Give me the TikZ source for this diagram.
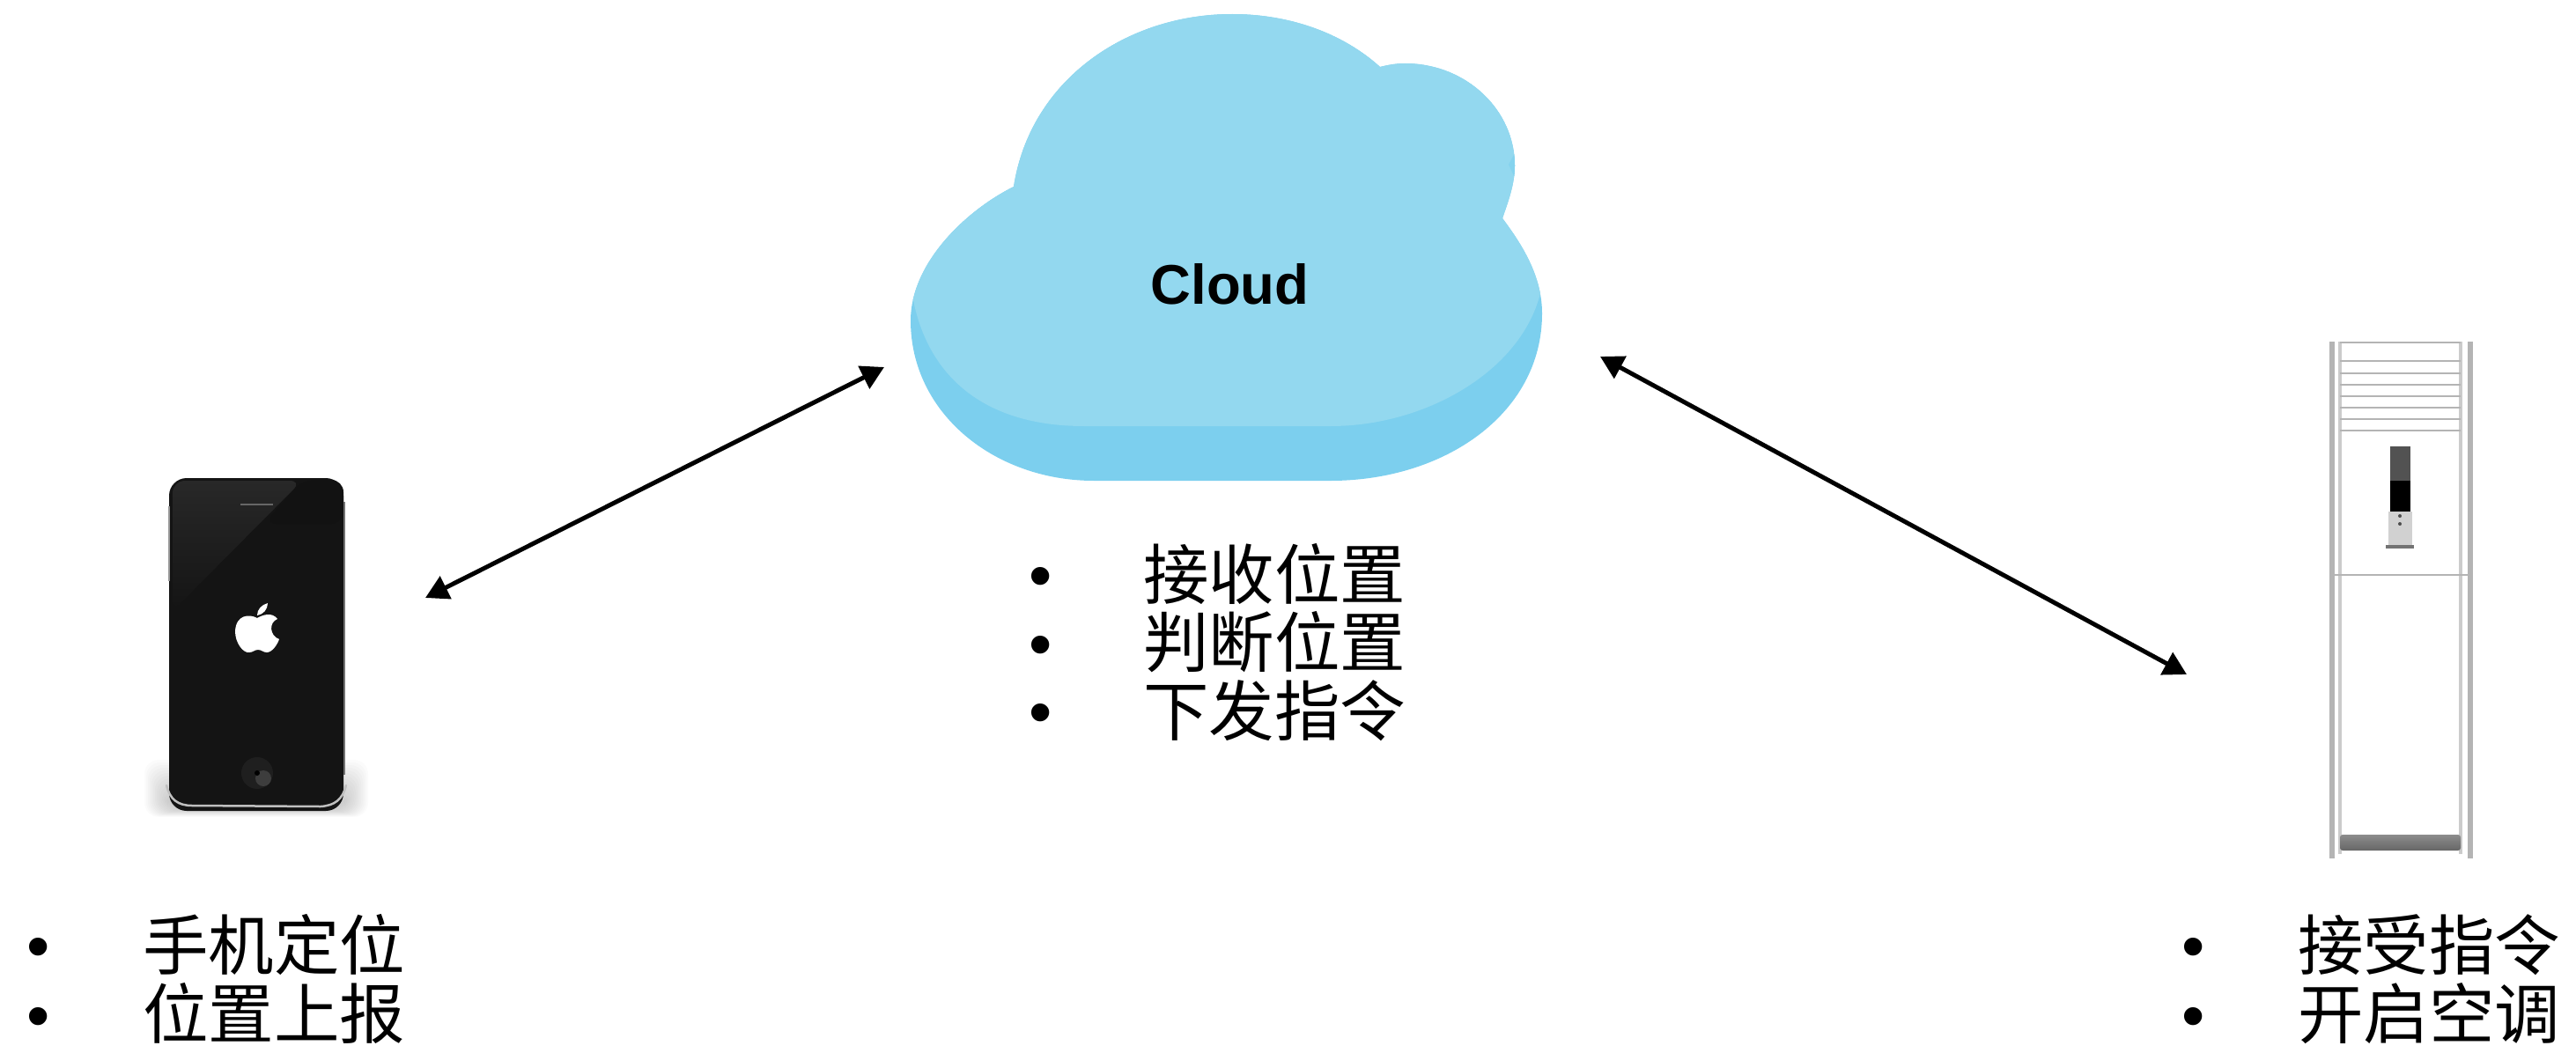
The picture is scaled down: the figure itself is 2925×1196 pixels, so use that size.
\documentclass[tikz,border=0pt]{standalone}
\usepackage{fontspec}
\setmainfont{Liberation Sans}
\newfontfamily\cjkfont{Noto Sans CJK SC}
\usetikzlibrary{arrows.meta}
\definecolor{cloudlight}{HTML}{93D8EF}
\definecolor{clouddark}{HTML}{7CCFEE}
\definecolor{phoneblack}{HTML}{141414}
\definecolor{phonegloss}{HTML}{282828}
\definecolor{acgrey}{HTML}{B4B4B4}
\def\cloudoutline{(1151,212) .. controls (1095,240) and (1034,300) .. (1034,364)
 .. controls (1034,470) and (1130,546) .. (1242,546) -- (1511,546)
 .. controls (1640,546) and (1751,470) .. (1751,356)
 .. controls (1751,315) and (1730,280) .. (1706,248)
 .. controls (1712,230) and (1720,210) .. (1720,188)
 .. controls (1720,125) and (1665,72) .. (1595,72)
 .. controls (1585,72) and (1575,74) .. (1567,76)
 .. controls (1525,38) and (1465,16) .. (1399,16)
 .. controls (1280,16) and (1170,90) .. (1151,212) -- cycle}
\tikzset{
  link/.style={line width=5pt,draw=black,{Triangle[length=26pt,width=28pt]}-{Triangle[length=26pt,width=28pt]}},
  item/.style={anchor=base west,inner sep=0pt,outer sep=0pt,font=\cjkfont\fontsize{74.5}{75}\selectfont},
  dot/.style={anchor=base,inner sep=0pt,outer sep=0pt,font=\fontsize{75}{75}\selectfont},
  cloudlabel/.style={inner sep=0pt,font=\bfseries\fontsize{63.5}{64}\selectfont},
  louver/.style={draw=acgrey,line width=2pt},
  acbar/.style={draw=acgrey,line width=6pt},
  acedge/.style={draw=acgrey!70,line width=4pt},
}
\begin{document}
\begin{tikzpicture}[x=1pt,y=-1pt]
\useasboundingbox (0,0) rectangle (2925,1196);
% cloud
\fill[clouddark] \cloudoutline;
\begin{scope}
  \clip \cloudoutline;
  \fill[cloudlight] (1000,0) -- (1000,341) -- (1037,341) .. controls (1055,430) and (1120,484) .. (1231,484) -- (1511,484)
    .. controls (1620,484) and (1730,420) .. (1750,329) -- (1790,329) -- (1790,0) -- cycle;
  \fill[clouddark!60!cloudlight] (1721,172) -- (1713,187) -- (1721,204) -- cycle;
\end{scope}
\node[cloudlabel] (cloud) at (1396.5,323) {Cloud};
% phone
\foreach \s in {1,...,14} {
  \fill[black,opacity=.014,rounded corners=16pt] ({192-2*\s},{905-3*\s}) rectangle ({390+2*\s},{918+.7*\s});
}
\fill[phoneblack,rounded corners=20pt] (192,543) rectangle (390,921);
\shade[top color=phonegloss,bottom color=phoneblack,rounded corners=14pt] (196,546) -- (343,546) -- (212,678) -- (196,695) -- cycle;
\fill[black!93,rounded corners=14pt] (343,545) -- (390,545) -- (390,595) -- (300,595) -- cycle;
\draw[black!40,line width=1.5pt] (192,575) -- (192,660);
\draw[black!60,line width=1.5pt] (273,573) -- (310,573);
\draw[black!25,line width=2.5pt,line cap=round] (189,892) .. controls (193,908) and (202,915) .. (218,915) -- (364,916) .. controls (380,915) and (389,908) .. (393,892);
\draw[black!55,line width=1.5pt] (391,570) -- (391,880);
\fill[black!88] (292,878) circle (18);
\fill[black!76] (299,884) circle (9);
\fill[black] (292,878) circle (3);
\fill[white] (292,702) .. controls (283,697) and (268,698) .. (267,717) .. controls (267,730) and (276,742) .. (283,741)
  .. controls (287,741) and (289,738) .. (293,738) .. controls (297,738) and (299,741) .. (303,741)
  .. controls (309,741) and (315,732) .. (317,726) .. controls (306,722) and (305,707) .. (315,703)
  .. controls (309,695) and (299,698) .. (292,702) -- cycle;
\fill[white] (292,699) .. controls (292,692) and (297,687) .. (304,685) .. controls (304,692) and (299,698) .. (292,699) -- cycle;
% air conditioner
\draw[acbar] (2648,388) -- (2648,975);
\draw[acbar] (2805,388) -- (2805,975);
\draw[acedge] (2657,388) -- (2657,970);
\draw[acedge] (2794,388) -- (2794,970);
\foreach \yy in {389,410,424,437,450,463,476,489} {\draw[louver] (2657,\yy) -- (2794,\yy);}
\draw[louver] (2648,653) -- (2805,653);
\fill[black!68] (2714,507) rectangle (2737,546);
\fill[black] (2714,546) rectangle (2737,581);
\fill[black!18] (2712,581) rectangle (2739,619);
\fill[black!55] (2709,619) rectangle (2741,623);
\fill[black!70] (2725,586) circle (2);
\fill[black!70] (2725,595) circle (2);
\shade[top color=black!45,bottom color=black!60,rounded corners=3pt] (2657,948) rectangle (2794,966);
% connectors
\coordinate (phoneend) at (483,679);
\coordinate (cloudleft) at (1004,417);
\coordinate (cloudright) at (1817,405);
\coordinate (acend) at (2483,766);
\draw[link] (phoneend) -- (cloudleft);
\draw[link] (cloudright) -- (acend);
% centre list
\node[dot] (b1) at (1182,679) {•};
\node[dot] (b2) at (1182,757) {•};
\node[dot] (b3) at (1182,834) {•};
\node[item] (t1) at (1298,680) {接收位置};
\node[item] (t2) at (1298,757.5) {判断位置};
\node[item] (t3) at (1298,835) {下发指令};
% left list
\node[dot] (b4) at (44,1100) {•};
\node[dot] (b5) at (44,1179) {•};
\node[item] (t4) at (162,1101) {手机定位};
\node[item] (t5) at (162,1179) {位置上报};
% right list
\node[dot] (b6) at (2491,1100) {•};
\node[dot] (b7) at (2491,1179) {•};
\node[item] (t6) at (2609,1101) {接受指令};
\node[item] (t7) at (2609,1179) {开启空调};
\end{tikzpicture}
\end{document}
